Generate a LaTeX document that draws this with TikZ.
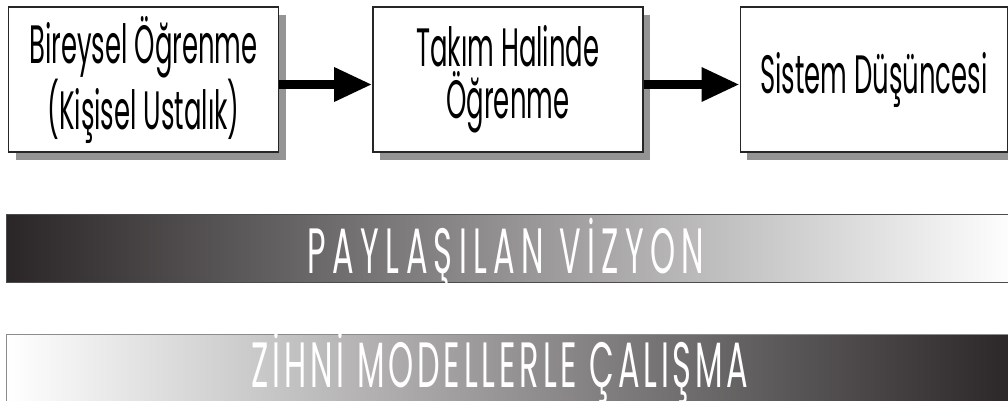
\documentclass[tikz,border=0pt]{standalone}
\usepackage{fontspec}
\newfontfamily\boxfont[FakeStretch=0.48]{Poppins}
\newfontfamily\barfont[FakeStretch=0.5, LetterSpace=10]{Poppins}
\newfontfamily\barfontnarrow[FakeStretch=0.5, LetterSpace=6]{Poppins}
\usetikzlibrary{positioning, shadows, arrows.meta}

\definecolor{bardark}{HTML}{2A2627}

\begin{document}
\begin{tikzpicture}[
    x=1pt, y=-1pt,
    >=Triangle,
    step_box/.style={draw=black!85, line width=1.4pt, fill=white,
        minimum width=270pt, minimum height=145pt, inner sep=0pt,
        align=center, font=\boxfont\fontsize{54}{52}\selectfont,
        drop shadow={shadow xshift=7pt, shadow yshift=-8pt, fill=black!42, opacity=1}},
    flow_arrow/.style={-{Triangle[length=38pt, width=32pt]}, line width=9pt},
    band/.style={draw=black!70, line width=1.2pt, minimum height=68pt, inner sep=0pt},
    band_text/.style={text=white, inner sep=0pt, anchor=base, font=\barfont\fontsize{64}{64}\selectfont}
]
    \useasboundingbox (0,0) rectangle (1008,401);

    % ======================================================================
    % UST SIRA: OGRENME ADIMLARI
    % ======================================================================
    \node[step_box] (bireysel) at (143.5, 79.5)
        {Bireysel Öğrenme\\(Kişisel Ustalık)};
    \node[step_box, right=93pt of bireysel] (takim)
        {Takım Halinde\\Öğrenme};
    \node[step_box, right=96pt of takim, minimum width=267pt] (sistem)
        {Sistem Düşüncesi};

    % Oklar
    \draw[flow_arrow] ([yshift=-5pt]bireysel.east) -- ([yshift=-5pt]takim.west);
    \draw[flow_arrow] ([yshift=-5pt]takim.east) -- ([yshift=-5pt]sistem.west);

    % ======================================================================
    % ALT SIRA: GECISLI BANTLAR
    % ======================================================================
    \node[band, left color=bardark, right color=white, minimum width=1010pt,
        anchor=north west] (vizyon) at (6, 214) {};
    \node[band_text] (vizyon_text) at (506, 273) {PAYLAŞILAN VİZYON};

    \node[band, draw=black!45, left color=white, right color=bardark, minimum width=1010pt,
        anchor=north west] (modeller) at (6, 334) {};
    \node[band_text, font=\barfontnarrow\fontsize{64}{64}\selectfont] (modeller_text)
        at (500, 387) {ZİHNİ MODELLERLE ÇALIŞMA};

\end{tikzpicture}
\end{document}
